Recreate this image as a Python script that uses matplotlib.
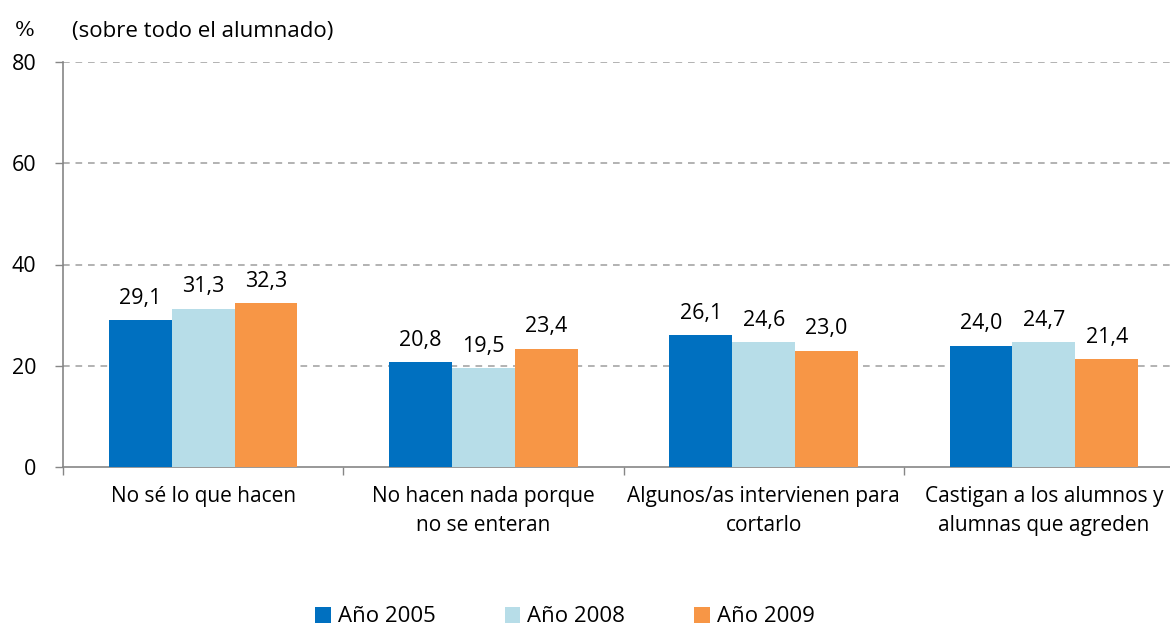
import matplotlib
matplotlib.use("Agg")
import matplotlib.pyplot as plt
import numpy as np

# Data
categories = [
    "No sé lo que hacen",
    "No hacen nada porque\nno se enteran",
    "Algunos/as intervienen para\ncortarlo",
    "Castigan a los alumnos y\nalumnas que agreden",
]
series_names = ["Año 2005", "Año 2008", "Año 2009"]
values_2005 = [29.1, 20.8, 26.1, 24.0]
values_2008 = [31.3, 19.5, 24.6, 24.7]
values_2009 = [32.3, 23.4, 23.0, 21.4]
y_ticks = [0, 20, 40, 60, 80]

colors = ["#0070C0", "#B7DDE8", "#F79646"]
font = "Open Sans"
fs_text = 15
fs_num = 15.5
axis_gray = "#868686"

fig = plt.figure(figsize=(11.7, 6.33), dpi=100)
ax = fig.add_axes([63 / 1170, 166 / 633, 1121 / 1170, 405 / 633])

x = np.arange(len(categories))
width = 0.224
all_series = [values_2005, values_2008, values_2009]
for i, (vals, name, col) in enumerate(zip(all_series, series_names, colors)):
    pos = x + (i - 1) * width
    bars = ax.bar(pos, vals, width, color=col, label=name, zorder=3)
    for b, v in zip(bars, vals):
        ax.annotate(f"{v:.1f}".replace(".", ","),
                    (b.get_x() + b.get_width() / 2, v),
                    xytext=(0, 8), textcoords="offset points",
                    ha="center", va="bottom", fontsize=fs_num, family=font,
                    color="black")

ax.set_xlim(-0.5, len(categories) - 0.5)
ax.set_ylim(0, 80)
ax.set_yticks(y_ticks)
ax.set_yticklabels([str(t) for t in y_ticks], fontsize=fs_num, family=font)
ax.tick_params(axis="y", length=6, width=1, color=axis_gray, pad=13)

ax.set_xticks(x)
ax.set_xticklabels(categories, fontsize=fs_text, family=font, linespacing=1.45)
ax.tick_params(axis="x", which="major", length=0, pad=14)
ax.set_xticks(np.arange(-0.5, len(categories), 1.0), minor=True)
ax.tick_params(axis="x", which="minor", length=6, width=1, color=axis_gray)

for t in y_ticks[1:]:
    ax.axhline(t, color="#A6A6A6", lw=1.2, ls=(0, (4, 3.5)), zorder=1)

for s in ["top", "right"]:
    ax.spines[s].set_visible(False)
for s in ["left", "bottom"]:
    ax.spines[s].set_color(axis_gray)
    ax.spines[s].set_linewidth(1.2)
ax.spines["left"].set_zorder(4)

fig.text(15 / 1170, 1 - 31 / 633, "%", fontsize=15, family="DejaVu Serif",
         va="center", ha="left")
fig.text(72 / 1170, 1 - 32 / 633, "(sobre todo el alumnado)", fontsize=16,
         family=font, va="center", ha="left")

leg = fig.legend(loc="center", bbox_to_anchor=(565 / 1170, 1 - 617 / 633),
                 ncol=3, frameon=False, prop={"family": font, "size": 16},
                 handlelength=0.7, handleheight=0.7, handletextpad=0.32,
                 columnspacing=3.1, borderpad=0)

fig.savefig("out.png", dpi=100)
